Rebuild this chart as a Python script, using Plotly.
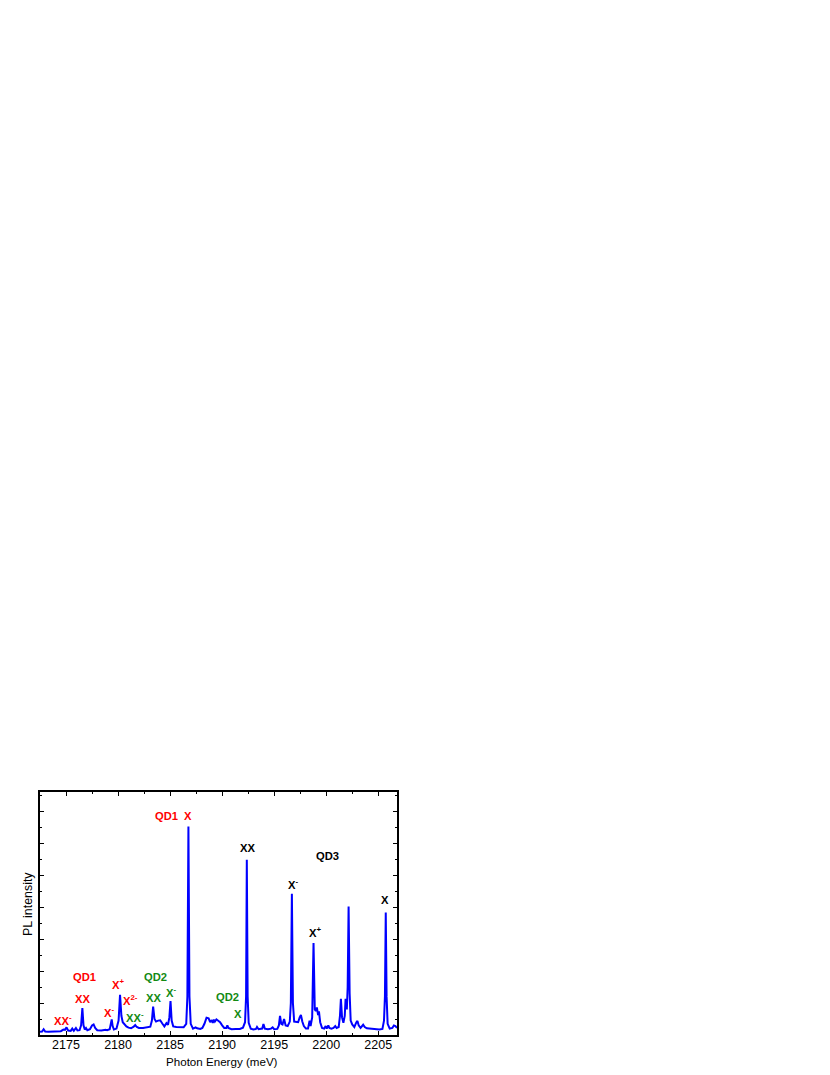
import plotly.graph_objects as go

# spectrum (energy in meV, intensity in major-tick units)
energy = [
    2172.5, 2172.7, 2172.85, 2173.0, 2173.3, 2173.6, 2173.9, 2174.2, 2174.5, 2174.75,
    2174.9, 2175.05, 2175.2, 2175.45, 2175.6, 2175.75, 2175.95, 2176.1, 2176.3, 2176.45,
    2176.57, 2176.68, 2176.8, 2176.92, 2177.05, 2177.3, 2177.5, 2177.65, 2177.8, 2178.0,
    2178.4, 2178.8, 2178.95, 2179.2, 2179.3, 2179.39, 2179.48, 2179.6, 2179.85, 2180.05,
    2180.19, 2180.32, 2180.45, 2180.6, 2180.8, 2181.0, 2181.25, 2181.5, 2181.65, 2181.8,
    2182.0, 2182.4, 2182.8, 2183.1, 2183.25, 2183.37, 2183.5, 2183.65, 2183.85, 2184.05,
    2184.25, 2184.45, 2184.65, 2184.8, 2184.93, 2185.04, 2185.15, 2185.3, 2185.6, 2186.0,
    2186.3, 2186.55, 2186.66, 2186.76, 2186.86, 2186.98, 2187.2, 2187.45, 2187.6, 2187.9,
    2188.1, 2188.3, 2188.5, 2188.7, 2188.85, 2189.0, 2189.1, 2189.2, 2189.3, 2189.45,
    2189.6, 2189.8, 2190.0, 2190.2, 2190.4, 2190.5, 2190.6, 2190.9, 2191.3, 2191.7,
    2192.0, 2192.2, 2192.3, 2192.37, 2192.45, 2192.55, 2192.75, 2193.0, 2193.25, 2193.35,
    2193.5, 2193.85, 2193.97, 2194.1, 2194.4, 2194.7, 2194.85, 2195.0, 2195.3, 2195.45,
    2195.56, 2195.68, 2195.8, 2195.95, 2196.1, 2196.3, 2196.5, 2196.6, 2196.7, 2196.8,
    2196.92, 2197.1, 2197.3, 2197.45, 2197.57, 2197.7, 2197.85, 2198.05, 2198.25, 2198.4,
    2198.5, 2198.65, 2198.78, 2198.9, 2199.0, 2199.1, 2199.22, 2199.3, 2199.42, 2199.6,
    2199.8, 2199.95, 2200.05, 2200.2, 2200.3, 2200.5, 2200.7, 2200.87, 2201.0, 2201.2,
    2201.32, 2201.41, 2201.52, 2201.65, 2201.78, 2201.86, 2201.98, 2202.06, 2202.15, 2202.25,
    2202.35, 2202.5, 2202.7, 2202.9, 2203.0, 2203.12, 2203.3, 2203.55, 2203.7, 2203.9,
    2204.3, 2204.7, 2205.1, 2205.4, 2205.55, 2205.64, 2205.72, 2205.8, 2205.9, 2206.1,
    2206.35, 2206.5, 2206.65, 2206.8,
]
intensity = [
    0.10, 0.11, 0.18, 0.11, 0.10, 0.11, 0.10, 0.11, 0.12, 0.17,
    0.16, 0.24, 0.14, 0.13, 0.20, 0.13, 0.22, 0.14, 0.15, 0.30,
    0.84, 0.30, 0.17, 0.22, 0.15, 0.18, 0.30, 0.33, 0.22, 0.15,
    0.14, 0.16, 0.15, 0.18, 0.30, 0.49, 0.28, 0.17, 0.20, 0.45,
    1.26, 0.60, 0.40, 0.33, 0.27, 0.23, 0.21, 0.26, 0.31, 0.25,
    0.22, 0.22, 0.23, 0.26, 0.45, 0.89, 0.50, 0.42, 0.45, 0.46,
    0.36, 0.27, 0.37, 0.32, 0.55, 1.06, 0.45, 0.27, 0.25, 0.24,
    0.24, 0.35, 1.20, 6.52, 1.20, 0.35, 0.20, 0.24, 0.21, 0.19,
    0.22, 0.35, 0.54, 0.52, 0.40, 0.47, 0.38, 0.48, 0.42, 0.49,
    0.46, 0.40, 0.30, 0.22, 0.22, 0.30, 0.22, 0.18, 0.19, 0.19,
    0.23, 0.40, 1.20, 5.48, 1.20, 0.38, 0.20, 0.17, 0.19, 0.25,
    0.18, 0.20, 0.34, 0.20, 0.18, 0.20, 0.24, 0.18, 0.19, 0.30,
    0.60, 0.35, 0.33, 0.50, 0.30, 0.28, 0.42, 1.00, 4.42, 1.00,
    0.42, 0.40, 0.40, 0.55, 0.63, 0.42, 0.28, 0.20, 0.20, 0.45,
    0.28, 0.55, 2.875, 0.80, 0.75, 0.86, 0.62, 0.74, 0.40, 0.22,
    0.20, 0.28, 0.20, 0.30, 0.22, 0.20, 0.22, 0.28, 0.22, 0.25,
    0.60, 1.13, 0.55, 0.38, 0.60, 1.13, 0.80, 1.50, 4.02, 1.30,
    0.45, 0.33, 0.25, 0.40, 0.44, 0.30, 0.22, 0.32, 0.25, 0.21,
    0.19, 0.18, 0.17, 0.19, 0.45, 1.20, 3.83, 1.20, 0.35, 0.20,
    0.22, 0.30, 0.28, 0.22,
]

# peak labels
label_text = [
    "QD1", "X", "XX", "QD3", "X<sup>-</sup>", "X", "X<sup>+</sup>",
    "QD1", "XX", "X<sup>+</sup>", "X<sup>2-</sup>", "X<sup>-</sup>", "XX<sup>-</sup>",
    "QD2", "XX", "X<sup>-</sup>", "XX<sup>-</sup>", "QD2", "X",
]
label_x = [
    2184.62, 2186.73, 2192.40, 2200.10, 2196.83, 2205.67, 2198.94,
    2176.73, 2176.54, 2180.00, 2181.15, 2179.13, 2174.70,
    2183.56, 2183.37, 2185.10, 2181.63, 2190.48, 2191.54,
]
label_y = [
    6.86, 6.86, 5.85, 5.60, 4.73, 4.23, 3.23,
    1.82, 1.13, 1.60, 1.10, 0.73, 0.48,
    1.82, 1.17, 1.35, 0.57, 1.20, 0.67,
]
label_group = [
    "qd1", "qd1", "qd3", "qd3", "qd3", "qd3", "qd3",
    "qd1", "qd1", "qd1", "qd1", "qd1", "qd1",
    "qd2", "qd2", "qd2", "qd2", "qd2", "qd2",
]
farver = {"qd1": "#ff0000", "qd2": "#138a13", "qd3": "#000000"}

fig = go.Figure()
fig.add_trace(go.Scatter(
    x=energy, y=intensity, mode="lines",
    line=dict(color="#0000ff", width=2),
    hoverinfo="x+y",
))

for txt, lx, ly, grp in zip(label_text, label_x, label_y, label_group):
    fig.add_annotation(
        x=lx, y=ly, text=f"<b>{txt}</b>", showarrow=False,
        font=dict(family="Liberation Sans, Arial", size=11.2, color=farver[grp]),
        xanchor="center", yanchor="middle",
    )

# axis titles as annotations so they sit as close as in the picture
fig.add_annotation(
    x=0.51, y=0, xref="paper", yref="paper", yshift=-26,
    text="Photon Energy (meV)", showarrow=False,
    font=dict(family="Liberation Sans, Arial", size=11.6, color="black"),
    xanchor="center", yanchor="middle",
)
fig.add_annotation(
    x=0, y=0.539, xref="paper", yref="paper", xshift=-12,
    text="PL intensity", showarrow=False, textangle=-90,
    font=dict(family="Liberation Sans, Arial", size=12.4, color="black"),
    xanchor="center", yanchor="middle",
)

# siden har 8 px body-margin, så plotfeltet forskydes tilsvarende
fig.update_layout(
    width=830, height=1075,
    margin=dict(l=32, r=441, t=784, b=48),
    paper_bgcolor="white", plot_bgcolor="white",
    showlegend=False,
    font=dict(family="Liberation Sans, Arial", size=12, color="black"),
)
fig.update_xaxes(
    range=[2172.5, 2206.8],
    tickvals=[2175, 2180, 2185, 2190, 2195, 2200, 2205],
    ticks="inside", ticklen=4, tickwidth=1, tickcolor="black",
    minor=dict(ticks="inside", ticklen=2.5, dtick=2.5, tick0=2175, tickcolor="black"),
    showline=True, linecolor="black", linewidth=1.5, mirror="ticks",
    showgrid=False, zeroline=False,
    tickfont=dict(size=12.5), ticklabelstandoff=-3,
)
fig.update_yaxes(
    range=[0, 7.6], tick0=0, dtick=1, showticklabels=False,
    ticks="inside", ticklen=4, tickwidth=1, tickcolor="black",
    minor=dict(ticks="inside", ticklen=2.5, dtick=0.5, tick0=0, tickcolor="black"),
    showline=True, linecolor="black", linewidth=1.5, mirror="ticks",
    showgrid=False, zeroline=False,
)

fig.write_html("out.html")
